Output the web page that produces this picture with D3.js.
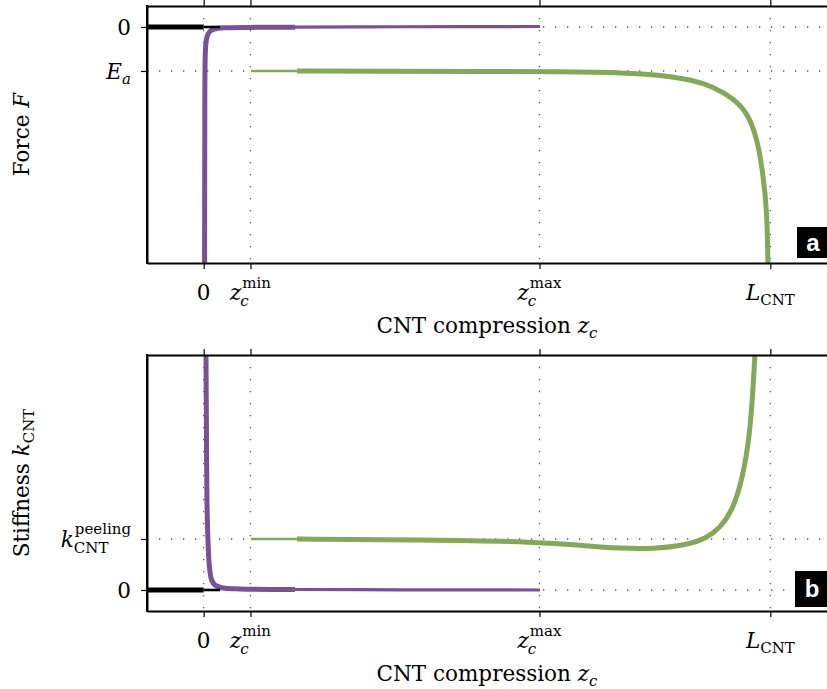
<!DOCTYPE html>
<html><head><meta charset="utf-8">
<script src="https://cdn.jsdelivr.net/npm/d3@7"></script>
<style>
body{margin:0;background:#fff}
svg{display:block}
text{font-family:"DejaVu Serif",serif;fill:#000;white-space:pre}
</style>
</head><body>
<svg id="c" width="827" height="689"></svg>
<script>
// ---------------- data ----------------
const xTickValues = [0, 0.0826, 0.5926, 1.0];      // 0, z_c^min, z_c^max, L_CNT
const aTickValues = [0, -1];                        // F: 0, E_a
const bTickValues = [0, 1];                         // k: 0, k_CNT^peeling

// panel a : force
const blackAThickZ = [-0.1, 0.0];   const blackAThickF = [0, 0];
const blackAThinZ  = [0.0, 0.0288]; const blackAThinF  = [0, 0];
const purpleAThickZ = [0.0016,0.0019,0.0026,0.0037,0.0058,0.0094,0.0146,0.0235,0.0376,0.0817,0.1611];
const purpleAThickF = [-5.364,-2.795,-0.75,-0.409,-0.227,-0.125,-0.068,-0.034,-0.018,-0.009,-0.005];
const purpleAThinZ = [0.1611, 0.3464, 0.5935];
const purpleAThinF = [-0.005, 0.005, 0.011];
const greenAThinZ = [0.0835, 0.1646];
const greenAThinF = [-1.0, -1.0];
const greenAThickZ = [0.1646,0.3464,0.4876,0.6288,0.7470,0.8053,0.8634,0.8987,0.9340,0.9587,0.9764,0.9870,0.9940,0.9958];
const greenAThickF = [-1.0,-1.005,-1.008,-1.016,-1.039,-1.091,-1.205,-1.357,-1.614,-1.932,-2.5,-3.318,-4.159,-5.364];

// panel b : stiffness
const blackBThickZ = [-0.1, 0.0];   const blackBThickK = [0, 0];
const blackBThinZ  = [0.0, 0.0288]; const blackBThinK  = [0, 0];
const purpleBThickZ = [0.0041,0.0049,0.0058,0.0076,0.0102,0.0141,0.0199,0.0341,0.0641,0.1611];
const purpleBThickK = [4.608,3.137,1.765,0.980,0.451,0.196,0.098,0.039,0.020,0.010];
const purpleBThinZ = [0.1611, 0.3464, 0.5935];
const purpleBThinK = [0.010, 0.004, 0.0];
const greenBThinZ = [0.0835, 0.1646];
const greenBThinK = [1.0, 1.0];
const greenBThickZ = [0.1646,0.3817,0.5935,0.6764,0.7346,0.7929,0.8529,0.8882,0.9111,0.9340,0.9517,0.9640,0.9693,0.9728];
const greenBThickK = [1.0,0.98,0.947,0.863,0.818,0.804,0.882,1.02,1.216,1.569,2.216,3.078,3.922,4.608];

// ---------------- layout ----------------
const svg = d3.select('#c');
const PURPLE = '#7a5195', GREEN = '#84a85a';
const FS = 21.5, SFS = 15;
const x = d3.scaleLinear().domain([-0.1, 1.1]).range([147, 827]);
const yA = d3.scaleLinear().domain([-5.364, 0.477]).range([263, 6]);
const yB = d3.scaleLinear().domain([-0.412, 4.608]).range([611, 355]);

function math(g, items) {
  let cx = 0;
  const put = (s, xx) => {
    const t = g.append('text').attr('x', xx).attr('y', s.dy || 0)
      .attr('font-size', s.sz || FS)
      .attr('font-style', s.it ? 'italic' : 'normal')
      .text(s.t);
    return t.node().getComputedTextLength();
  };
  items.forEach(it => {
    if (it.stack) {
      let w = 0;
      it.stack.forEach(s => { w = Math.max(w, put(s, cx + (s.dx || 0)) + (s.dx || 0)); });
      cx += w;
    } else {
      cx += put(it, cx + (it.dx || 0)) + (it.dx || 0);
    }
  });
  return cx;
}
function placeMath(parent, items, px, py, anchor, rot) {
  const g = parent.append('g');
  const inner = g.append('g');
  const w = math(inner, items);
  let ox = 0;
  if (anchor === 'middle') ox = -w / 2;
  else if (anchor === 'end') ox = -w;
  inner.attr('transform', `translate(${ox},0)`);
  g.attr('transform', `translate(${px},${py})` + (rot ? ` rotate(${rot})` : ''));
  return g;
}

const zLab = (s) => [{t:'z', it:true}, {stack:[{t:s, sz:SFS, dy:-12, dx:1}, {t:'c', it:true, sz:SFS, dy:6, dx:-1}]}];
const xLabelItems = [
  [{t:'0'}], zLab('min'), zLab('max'), [{t:'L', it:true}, {t:'CNT', sz:SFS, dy:5, dx:0}]
];

function panel(top, bottom, y, yTicks, yLabelItems, ylab, series, tag, tagBox) {
  const g = svg.append('g');
  const grid = g.append('g').attr('stroke', '#555').attr('stroke-width', 1.3)
    .attr('stroke-dasharray', '1.3,10.7').attr('fill', 'none');
  xTickValues.forEach(v => grid.append('line').attr('x1', x(v)).attr('x2', x(v)).attr('y1', top).attr('y2', bottom));
  yTicks.forEach(v => grid.append('line').attr('x1', 147).attr('x2', 827).attr('y1', y(v)).attr('y2', y(v)));

  series.forEach(s => {
    const line = d3.line().x(d => x(d[0])).y(d => y(d[1]))
      .curve(s.smooth ? d3.curveBasis : d3.curveCatmullRom.alpha(0.5));
    g.append('path').datum(d3.zip(s.z, s.v)).attr('d', line)
      .attr('fill', 'none').attr('stroke', s.c).attr('stroke-width', s.w)
      .attr('stroke-linecap', 'butt').attr('stroke-linejoin', 'round');
  });

  const ax = g.append('g');
  ax.append('g').attr('transform', `translate(0,${bottom})`)
    .call(d3.axisBottom(x).tickValues(xTickValues).tickSize(6).tickSizeOuter(0).tickFormat(''));
  ax.append('g').attr('transform', `translate(0,${top})`)
    .call(d3.axisTop(x).tickValues(xTickValues).tickSize(6).tickSizeOuter(0).tickFormat(''));
  ax.append('g').attr('transform', `translate(147,0)`)
    .call(d3.axisLeft(y).tickValues(yTicks).tickSize(6).tickSizeOuter(0).tickFormat(''));
  ax.selectAll('.domain').attr('stroke', '#000').attr('stroke-width', 2);
  ax.selectAll('.tick line').attr('stroke', '#000').attr('stroke-width', 1.2);
  g.append('line').attr('x1', 147).attr('x2', 147).attr('y1', top - 1).attr('y2', bottom + 1).attr('stroke', '#000').attr('stroke-width', 2);

  xTickValues.forEach((v, i) => placeMath(g, xLabelItems[i], x(v), bottom + 37, 'middle'));
  placeMath(g, [{t:'CNT compression '}, {t:'z', it:true}, {t:'c', it:true, sz:SFS, dy:5}], 487, bottom + 70, 'middle');
  yTicks.forEach((v, i) => placeMath(g, yLabelItems[i], 131, y(v) + 8, 'end'));
  placeMath(g, ylab, 29, (top + bottom) / 2, 'middle', -90);

  g.append('rect').attr('x', tagBox[0]).attr('y', tagBox[1]).attr('width', tagBox[2]).attr('height', tagBox[3]).attr('fill', '#000');
  g.append('text').attr('x', tagBox[0] + tagBox[2] / 2 + 1).attr('y', tagBox[1] + tagBox[3] / 2 + 8)
    .attr('text-anchor', 'middle').style('font-family', '"Liberation Sans", Arial, sans-serif')
    .attr('font-weight', 'bold').attr('font-size', 24).style('fill', '#fff').text(tag);
}

panel(6, 263, yA, aTickValues,
  [[{t:'0'}], [{t:'E', it:true}, {t:'a', it:true, sz:SFS, dy:5}]],
  [{t:'Force '}, {t:'F', it:true}],
  [
    {z: purpleAThickZ, v: purpleAThickF, c: PURPLE, w: 5},
    {z: purpleAThinZ, v: purpleAThinF, c: PURPLE, w: 3.2},
    {z: greenAThinZ, v: greenAThinF, c: GREEN, w: 2.6},
    {z: greenAThickZ, v: greenAThickF, c: GREEN, w: 5, smooth: true},
    {z: blackAThickZ, v: blackAThickF, c: '#000', w: 5},
    {z: blackAThinZ, v: blackAThinF, c: '#000', w: 2.6}
  ], 'a', [797, 227, 30, 31]);

panel(355, 611, yB, bTickValues,
  [[{t:'0'}], [{t:'k', it:true}, {stack:[{t:'peeling', sz:SFS, dy:-13, dx:1}, {t:'CNT', sz:SFS, dy:6}]}]],
  [{t:'Stiffness '}, {t:'k', it:true}, {t:'CNT', sz:SFS, dy:5}],
  [
    {z: purpleBThickZ, v: purpleBThickK, c: PURPLE, w: 5},
    {z: purpleBThinZ, v: purpleBThinK, c: PURPLE, w: 3.2},
    {z: greenBThinZ, v: greenBThinK, c: GREEN, w: 2.6},
    {z: greenBThickZ, v: greenBThickK, c: GREEN, w: 5, smooth: true},
    {z: blackBThickZ, v: blackBThickK, c: '#000', w: 5},
    {z: blackBThinZ, v: blackBThinK, c: '#000', w: 2.6}
  ], 'b', [795, 571, 32, 36]);
</script>
</body></html>
